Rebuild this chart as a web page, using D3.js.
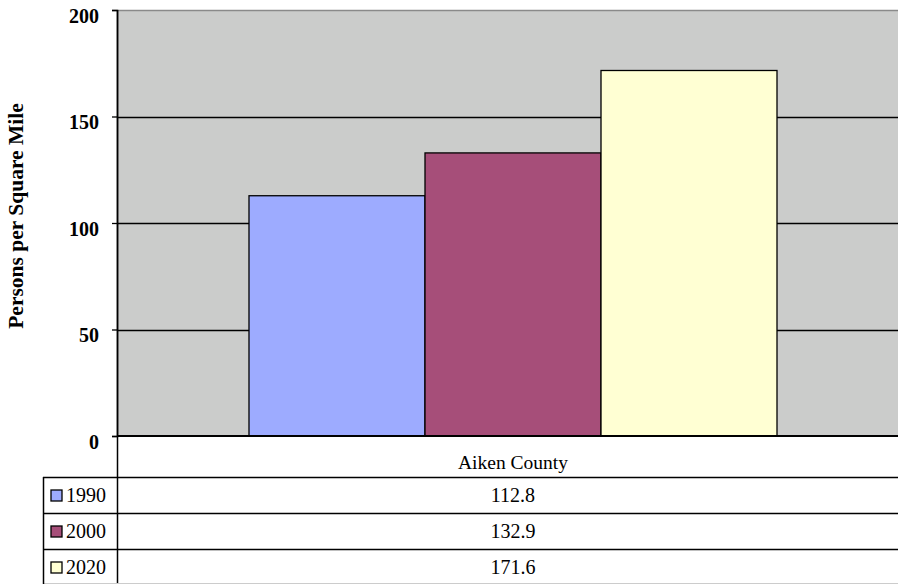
<!DOCTYPE html>
<html>
<head>
<meta charset="utf-8">
<script src="https://cdn.jsdelivr.net/npm/d3@7"></script>
<style>
  html, body { margin: 0; padding: 0; background: #fff; }
  svg { display: block; }
</style>
</head>
<body>
<svg id="chart" width="898" height="584"></svg>
<script>
// Population density, Aiken County
const categories = ["Aiken County"];
const seriesNames = ["1990", "2000", "2020"];
const seriesValues = [[112.8], [132.9], [171.6]];
const seriesColors = ["#9dabff", "#a64e79", "#ffffd3"];
const yTicks = [0, 50, 100, 150, 200];
const yTitle = "Persons per Square Mile";

const FONT = "'Liberation Serif', 'Times New Roman', 'DejaVu Serif', serif";

const svg = d3.select("#chart");
const W = 898, H = 584;
const plot = { left: 117, top: 10, right: 909, bottom: 436 };

const y = d3.scaleLinear().domain([0, 200]).range([plot.bottom, plot.top]);
const x0 = d3.scaleBand().domain(categories).range([plot.left, plot.right]).paddingInner(0).paddingOuter(0);
// gap width of 150% around each cluster of three bars
const clusterW = x0.bandwidth() * 3 / (3 + 1.5);
const x1 = d3.scaleBand().domain(seriesNames).range([0, clusterW]).padding(0);

// plot area background
svg.append("rect")
  .attr("x", plot.left).attr("y", plot.top)
  .attr("width", plot.right - plot.left).attr("height", plot.bottom - plot.top)
  .attr("fill", "#cbcccb");

// top edge of plot area
svg.append("line")
  .attr("x1", plot.left).attr("x2", plot.right)
  .attr("y1", plot.top + 0.5).attr("y2", plot.top + 0.5)
  .attr("stroke", "#8a8a8a").attr("stroke-width", 1.5);

// gridlines
svg.append("g").selectAll("line")
  .data(yTicks.filter(t => t > 0 && t < 200))
  .join("line")
  .attr("x1", plot.left).attr("x2", plot.right)
  .attr("y1", d => Math.round(y(d)) + 0.5).attr("y2", d => Math.round(y(d)) + 0.5)
  .attr("stroke", "#000").attr("stroke-width", 1.3);

// bars
const groups = svg.append("g").selectAll("g")
  .data(categories)
  .join("g")
  .attr("transform", d => `translate(${x0(d) + (x0.bandwidth() - clusterW) / 2},0)`);

groups.selectAll("rect")
  .data((d, ci) => seriesNames.map((s, si) => ({ s, v: seriesValues[si][ci], c: seriesColors[si] })))
  .join("rect")
  .attr("x", d => x1(d.s))
  .attr("y", d => y(d.v))
  .attr("width", x1.bandwidth())
  .attr("height", d => y(0) - y(d.v))
  .attr("fill", d => d.c)
  .attr("stroke", "#000")
  .attr("stroke-width", 1.3);

// y axis
const yAxis = d3.axisLeft(y).tickValues(yTicks).tickSize(5).tickPadding(13).tickFormat(d3.format("d"));
const ga = svg.append("g").attr("transform", `translate(${plot.left},0)`).call(yAxis);
ga.attr("font-family", null).attr("font-size", null);
ga.select(".domain").attr("stroke", "#000").attr("stroke-width", 1.5);
ga.selectAll(".tick line").attr("stroke", "#000").attr("stroke-width", 1.3);
ga.selectAll(".tick text")
  .style("font-family", FONT)
  .style("font-size", "20px").style("font-weight", "bold").attr("fill", "#000")
  .attr("dy", "0.6em");

// extend axis line down through the category row
svg.append("line")
  .attr("x1", plot.left + 0.5).attr("x2", plot.left + 0.5)
  .attr("y1", plot.top).attr("y2", 584)
  .attr("stroke", "#000").attr("stroke-width", 1.5);

// zero line
svg.append("line")
  .attr("x1", plot.left).attr("x2", plot.right)
  .attr("y1", y(0)).attr("y2", y(0))
  .attr("stroke", "#000").attr("stroke-width", 2);

// y axis title
svg.append("text")
  .attr("transform", `translate(23,216) rotate(-90)`)
  .attr("text-anchor", "middle")
  .style("font-family", FONT).style("font-size", "21.5px").style("font-weight", "bold")
  .text(yTitle);

// data table
const rowTop = 477, rowH = 36;
const tableLeft = 43;
const cx = x0(categories[0]) + x0.bandwidth() / 2;

// category label row
svg.append("text")
  .attr("x", cx).attr("y", 469)
  .attr("text-anchor", "middle")
  .style("font-family", FONT).style("font-size", "19.5px")
  .text(categories[0]);

const rows = svg.append("g").selectAll("g")
  .data(seriesNames.map((s, i) => ({ s, i })))
  .join("g");

rows.append("line")
  .attr("x1", tableLeft).attr("x2", W)
  .attr("y1", d => rowTop + d.i * rowH + 0.5).attr("y2", d => rowTop + d.i * rowH + 0.5)
  .attr("stroke", "#000").attr("stroke-width", 1.5);

rows.append("rect")
  .attr("x", 51).attr("y", d => rowTop + d.i * rowH + 13)
  .attr("width", 11).attr("height", 11)
  .attr("fill", d => seriesColors[d.i])
  .attr("stroke", "#000").attr("stroke-width", 1.3);

rows.append("text")
  .attr("x", 66).attr("y", d => rowTop + d.i * rowH + 25)
  .style("font-family", FONT).style("font-size", "20px")
  .text(d => d.s);

rows.append("text")
  .attr("x", cx).attr("y", d => rowTop + d.i * rowH + 25)
  .attr("text-anchor", "middle")
  .style("font-family", FONT).style("font-size", "20px")
  .text(d => seriesValues[d.i][0].toFixed(1));

// table bottom and left border
svg.append("line")
  .attr("x1", tableLeft).attr("x2", W)
  .attr("y1", 583.5).attr("y2", 583.5)
  .attr("stroke", "#ccc").attr("stroke-width", 1);
svg.append("line")
  .attr("x1", tableLeft + 0.5).attr("x2", tableLeft + 0.5)
  .attr("y1", rowTop).attr("y2", 584)
  .attr("stroke", "#000").attr("stroke-width", 1.5);
</script>
</body>
</html>
